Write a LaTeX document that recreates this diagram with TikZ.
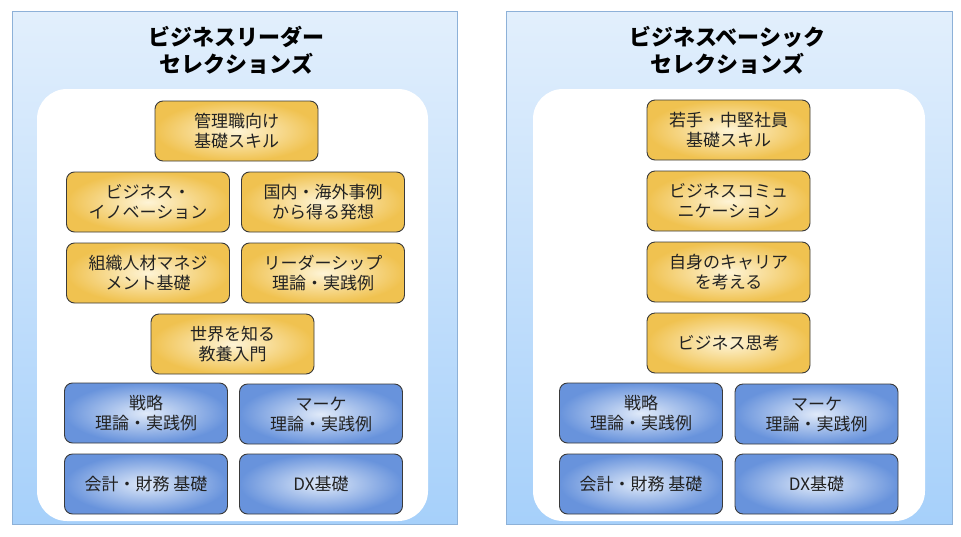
\documentclass[tikz,border=0pt]{standalone}
\usepackage{fontspec}
\setmainfont{Noto Sans CJK JP}
\usetikzlibrary{shadings}
\definecolor{panelTop}{HTML}{E2EFFC}
\definecolor{panelBot}{HTML}{A6D0FA}
\definecolor{panelEdge}{HTML}{8DB1D8}
\definecolor{goldIn}{HTML}{FEF4D6}
\definecolor{goldOut}{HTML}{F0C250}
\definecolor{blueIn}{HTML}{E0EAF9}
\definecolor{blueOut}{HTML}{6893DC}
\definecolor{boxEdge}{HTML}{3A3A3A}
\definecolor{txt}{HTML}{222222}
\tikzset{
  panel/.style={draw=panelEdge, line width=0.8pt, top color=panelTop, bottom color=panelBot},
  innerbox/.style={fill=white, draw=none, rounded corners=30pt},
  card/.style={draw=boxEdge, line width=0.9pt, rounded corners=8pt, minimum width=163pt, minimum height=60pt,
    align=center, text=txt, font=\fontsize{17}{20}\selectfont, inner sep=0pt},
  ybox/.style={card, inner color=goldIn, outer color=goldOut},
  bbox/.style={card, inner color=blueIn, outer color=blueOut},
  titletext/.style={align=center, font=\bfseries\fontsize{22}{27}\selectfont, text=black, inner sep=0pt}
}
\begin{document}
\begin{tikzpicture}[x=1pt, y=-1pt]
\useasboundingbox (0,0) rectangle (961,536);
% panels
\path[panel] (12,11) rectangle (457,524);
\path[panel] (506,11) rectangle (952,524);
\path[innerbox] (37,89) rectangle (428,521);
\path[innerbox] (533,89) rectangle (925,521);
% titles
\node[titletext] (tL) at (236.5,50) {ビジネスリーダー\\セレクションズ};
\node[titletext] (tR) at (727.5,50) {ビジネスベーシック\\セレクションズ};
% left cards
\node[ybox] (L1) at (236.5,131) {管理職向け\\基礎スキル};
\node[ybox] (L2) at (148,202) {ビジネス・\\イノベーション};
\node[ybox] (L3) at (323,202) {国内・海外事例\\から得る発想};
\node[ybox] (L4) at (148,273) {組織人材マネジ\\メント基礎};
\node[ybox] (L5) at (323,273) {リーダーシップ\\理論・実践例};
\node[ybox] (L6) at (232.5,344) {世界を知る\\教養入門};
\node[bbox] (L7) at (146,413) {戦略\\理論・実践例};
\node[bbox] (L8) at (321,414) {マーケ\\理論・実践例};
\node[bbox] (L9) at (146,484) {会計・財務 基礎};
\node[bbox] (L10) at (321,484) {DX基礎};
% right cards
\node[ybox] (R1) at (728.5,130) {若手・中堅社員\\基礎スキル};
\node[ybox] (R2) at (728.5,201) {ビジネスコミュ\\ニケーション};
\node[ybox] (R3) at (728.5,272) {自身のキャリア\\を考える};
\node[ybox] (R4) at (728.5,343) {ビジネス思考};
\node[bbox] (R5) at (641,413) {戦略\\理論・実践例};
\node[bbox] (R6) at (816.5,414) {マーケ\\理論・実践例};
\node[bbox] (R7) at (641,484) {会計・財務 基礎};
\node[bbox] (R8) at (816.5,484) {DX基礎};
\end{tikzpicture}
\end{document}
